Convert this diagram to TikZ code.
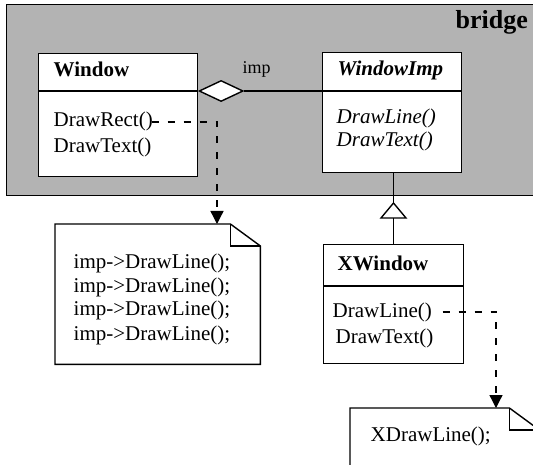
\documentclass[tikz,border=0pt]{standalone}
\usepackage{fontspec}
\setmainfont{Liberation Serif}
\usetikzlibrary{arrows.meta,shapes.geometric}
\definecolor{bridgegray}{RGB}{179,179,179}
\begin{document}
\begin{tikzpicture}[x=1pt,y=-1pt, line width=1.4pt,
  umlbox/.style={draw, fill=white, rectangle, inner sep=0pt, anchor=north west},
  txt/.style={anchor=base west, inner sep=0pt, font=\fontsize{21}{24}\selectfont},
  dep/.style={line width=1.3pt, dash pattern=on 7pt off 9pt, -{Triangle[length=13pt,width=13pt]}},
  notepart/.style={anchor=north west, inner sep=0pt},
  agg/.style={draw, fill=white, diamond, inner sep=0pt, minimum width=44pt, minimum height=21pt, anchor=west},
]
\useasboundingbox (0,0) rectangle (533,465);
\clip (0,0) rectangle (533,465);

% package
\node[draw, fill=bridgegray, anchor=north west, minimum width=540pt, minimum height=191pt, inner sep=0pt] (bridge) at (6,4) {};
\node[anchor=base west, inner sep=0pt, font=\fontsize{26}{30}\selectfont\bfseries] (bridgelbl) at (455,29) {bridge};

% Window
\node[umlbox, minimum width=159pt, minimum height=123pt] (window) at (38,53) {};
\draw (window.west |- 0,91) -- (window.east |- 0,91);
\node[txt, font=\fontsize{21}{24}\selectfont\bfseries] (windowname) at (53,77) {Window};
\node[txt] (drawrect) at (53,127) {DrawRect()};
\node[txt] (drawtext) at (53,153) {DrawText()};

% WindowImp
\node[umlbox, minimum width=139pt, minimum height=120pt] (windowimp) at (322,52) {};
\draw (windowimp.west |- 0,91) -- (windowimp.east |- 0,91);
\node[txt, font=\fontsize{21}{24}\selectfont\bfseries\itshape] (impname) at (337,76) {WindowImp};
\node[txt, font=\fontsize{21}{24}\selectfont\itshape] (impline) at (336,124) {DrawLine()};
\node[txt, font=\fontsize{21}{24}\selectfont\itshape] (imptext) at (336,147) {DrawText()};

% aggregation
\node[agg] (dia) at (window.east |- 0,91) {};
\draw (dia.east) -- (windowimp.west |- dia.east);
\node[anchor=base west, inner sep=0pt, font=\fontsize{18}{22}\selectfont] (implbl) at (242,74) {imp};

% XWindow
\node[umlbox, minimum width=140pt, minimum height=119pt] (xwindow) at (323,244) {};
\draw (xwindow.west |- 0,286) -- (xwindow.east |- 0,286);
\node[txt, font=\fontsize{21}{24}\selectfont\bfseries] (xname) at (337,271) {XWindow};
\node[txt] (xline) at (332,317) {DrawLine()};
\node[txt] (xtext) at (335,343) {DrawText()};

% generalization
\coordinate (genapex) at (393.5,203);
\coordinate (genbase) at (393.5,218);
\draw (genapex |- windowimp.south) -- (genapex);
\draw[fill=white, line join=miter] (genapex) -- ([xshift=-12.5pt]genbase) -- ([xshift=12.5pt]genbase) -- cycle;
\draw (genbase) -- (xwindow.north -| genbase);

% note 1
\node[notepart, minimum width=204pt, minimum height=139pt] (note1) at (55,224) {};
\draw[fill=white] (note1.north west) -- ([xshift=-30pt]note1.north east) -- ([yshift=-22pt]note1.north east) -- (note1.south east) -- (note1.south west) -- cycle;
\draw ([xshift=-30pt]note1.north east) -- ([xshift=-30pt,yshift=-22pt]note1.north east) -- ([yshift=-22pt]note1.north east);
\node[txt] (n1a) at (73,269) {imp->DrawLine();};
\node[txt] (n1b) at (73,292) {imp->DrawLine();};
\node[txt] (n1c) at (73,316) {imp->DrawLine();};
\node[txt] (n1d) at (73,340) {imp->DrawLine();};

% note 2
\node[notepart, minimum width=188pt, minimum height=80pt] (note2) at (350,408) {};
\draw[fill=white] (note2.north west) -- ([xshift=-30pt]note2.north east) -- ([yshift=-22pt]note2.north east) -- (note2.south east) -- (note2.south west) -- cycle;
\draw ([xshift=-30pt]note2.north east) -- ([xshift=-30pt,yshift=-22pt]note2.north east) -- ([yshift=-22pt]note2.north east);
\node[txt] (n2a) at (370,441) {XDrawLine();};

% dependencies to notes
\coordinate (n1in) at (217,224);
\coordinate (n2in) at (496,408);
\draw[dep] ([xshift=-2pt]drawrect.east) -| (n1in);
\draw[dep] ([xshift=10pt]xline.east) -| (n2in);
\end{tikzpicture}
\end{document}
